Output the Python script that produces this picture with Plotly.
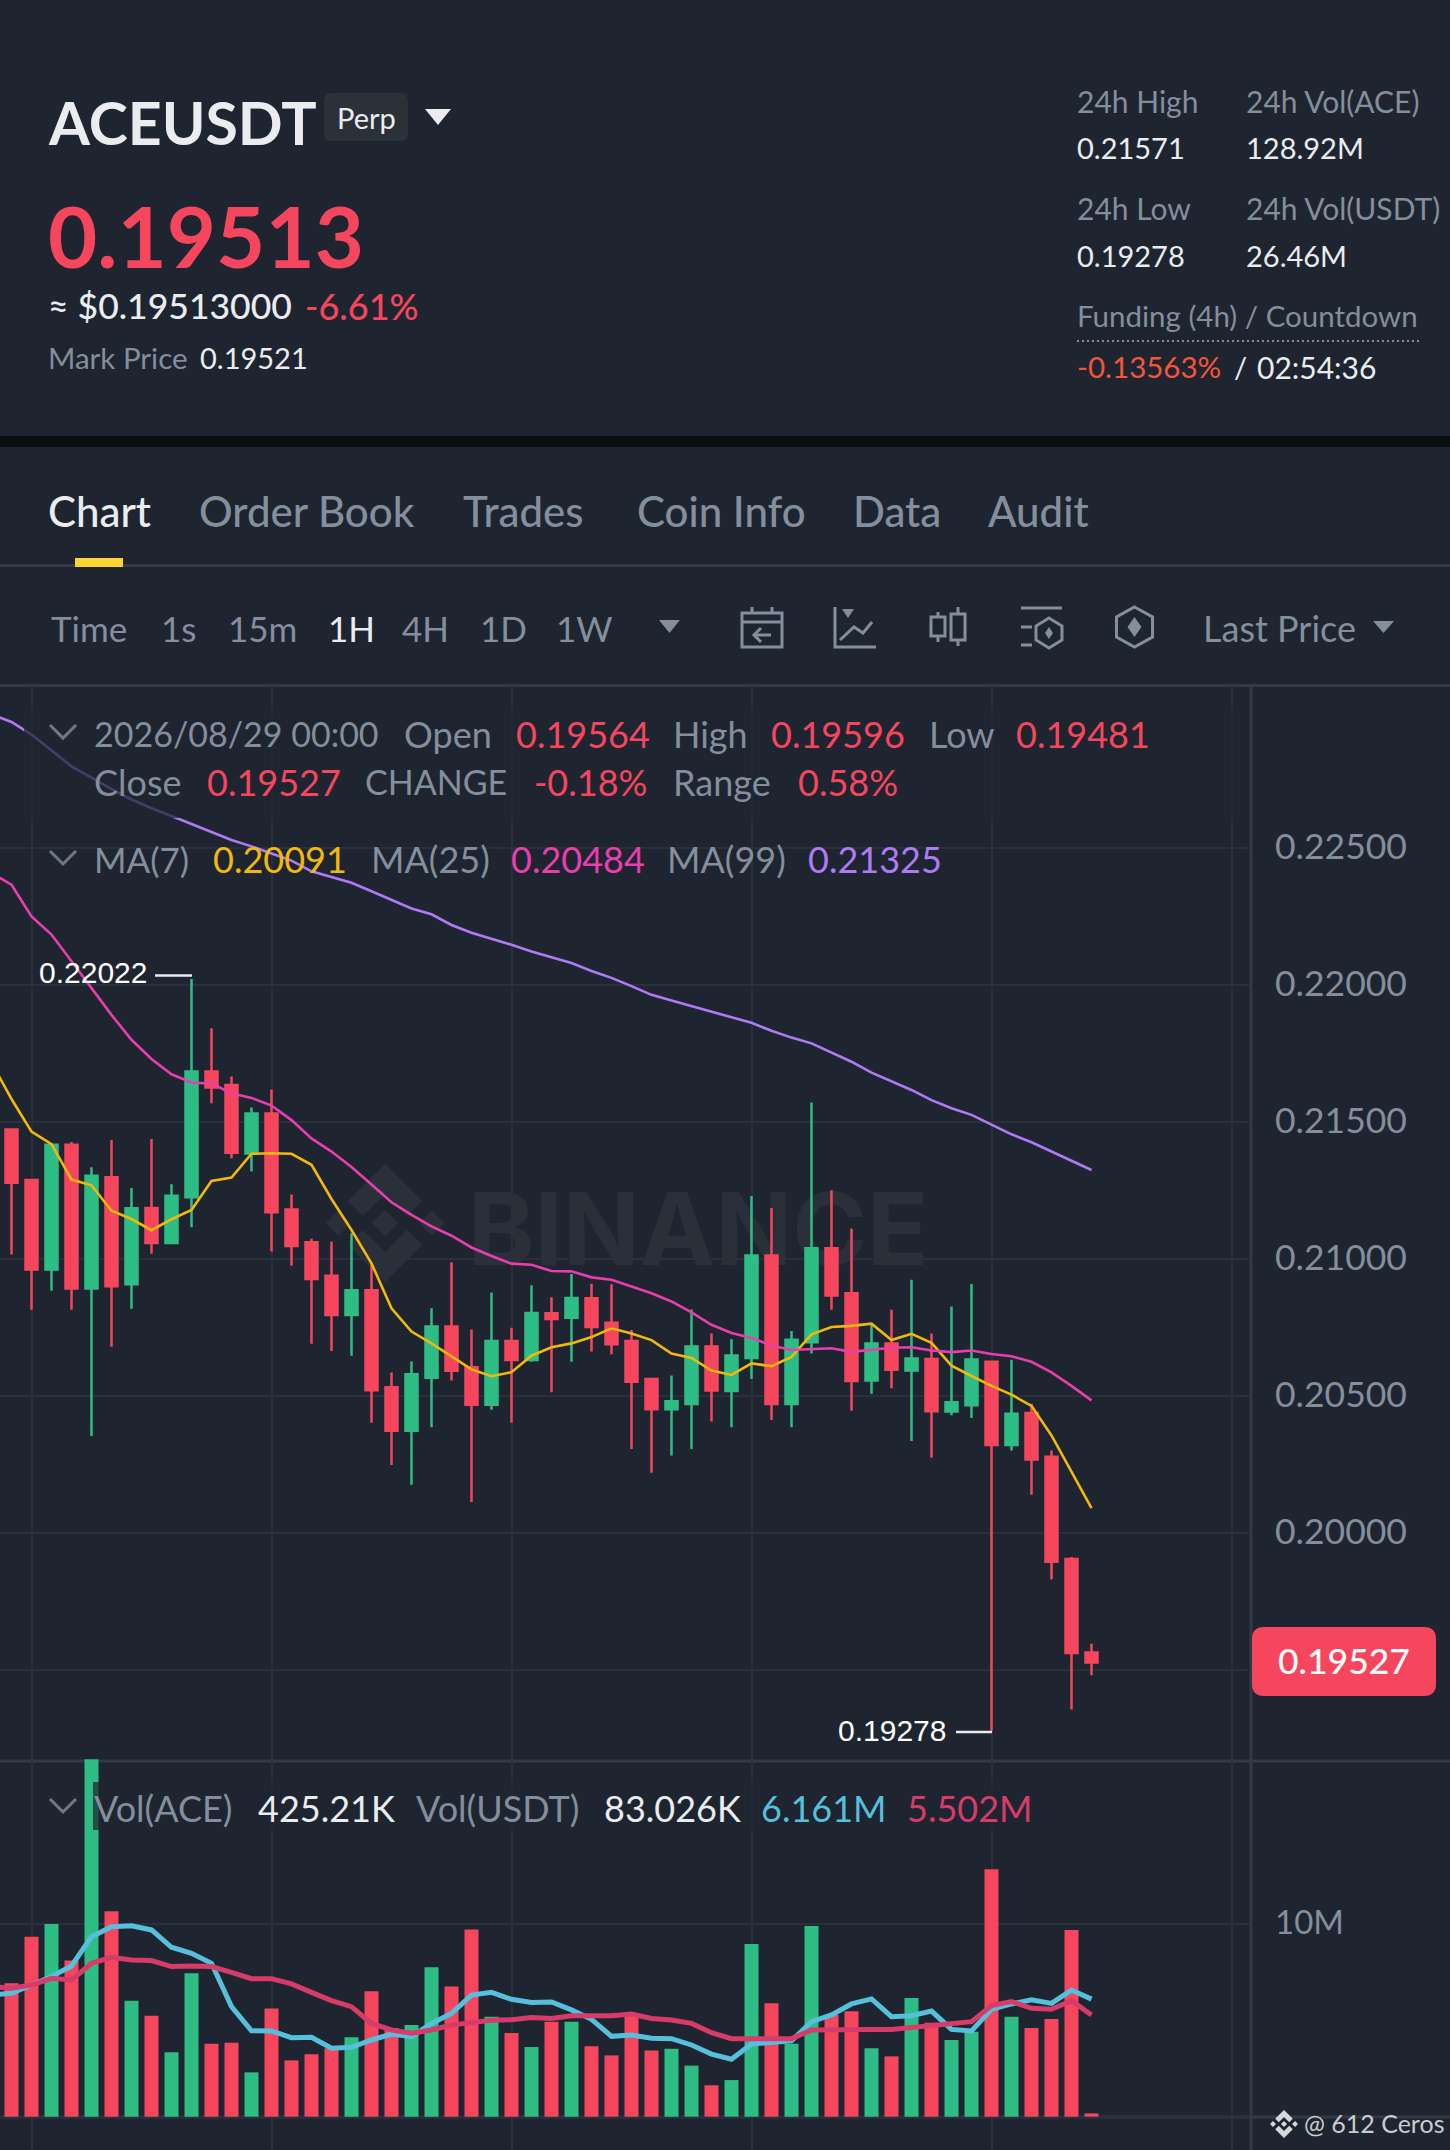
"""
ACEUSDT perp screen: 1H candles, moving averages and volume
"""

import plotly.graph_objects as go

# ─────────────────────────────────────────────────────────────────────────────
# Data
# ─────────────────────────────────────────────────────────────────────────────
opens = [
    .21473, .21288, .20962, .21417, .20892, .21298, .20908, .21186, .21058, .21225, .21684,
    .21635, .21385, .21531, .21181, .21061, .20939, .20796, .20886, .20532, .20373, .20567,
    .20754, .20605, .20468, .20701, .20631, .20802, .20786, .20857, .20767, .20701, .20562,
    .20452, .20471, .20681, .20518, .20639, .21013, .20471, .20696, .21039, .20875, .20557,
    .20692, .20593, .20635, .20443, .20466, .20625, .20321, .20438, .20278, .19905, .19564,
]
highs = [
    .21473, .21288, .21417, .21427, .21335, .21434, .21259, .21438, .21273, .22022, .21842,
    .21666, .21553, .21619, .21235, .21074, .21063, .21094, .20984, .20586, .20626, .20820,
    .20988, .20743, .20878, .20749, .20904, .20860, .20945, .20910, .20908, .20741, .20565,
    .20575, .20816, .20728, .20707, .21230, .21186, .20737, .21571, .21251, .21111, .20766,
    .20815, .20924, .20728, .20827, .20909, .20629, .20632, .20472, .20301, .19912, .19596,
]
lows = [
    .21016, .20815, .20884, .20815, .20354, .20680, .20818, .21019, .21056, .21116, .21568,
    .21367, .21319, .21027, .20975, .20691, .20664, .20647, .20402, .20248, .20176, .20386,
    .20557, .20113, .20450, .20402, .20625, .20514, .20625, .20662, .20652, .20307, .20220,
    .20283, .20307, .20407, .20386, .20562, .20412, .20386, .20655, .20815, .20446, .20508,
    .20528, .20336, .20275, .20430, .20420, .19278, .20301, .20140, .19830, .19356, .19481,
]
closes = [
    .21278, .20962, .21417, .20892, .21304, .20901, .21185, .21058, .21231, .21684, .21626,
    .21388, .21531, .21171, .21047, .20927, .20796, .20886, .20521, .20373, .20579, .20754,
    .20592, .20468, .20701, .20631, .20803, .20781, .20858, .20752, .20689, .20552, .20452,
    .20481, .20681, .20520, .20648, .21013, .20471, .20705, .21039, .20867, .20555, .20692,
    .20596, .20637, .20444, .20477, .20633, .20321, .20435, .20268, .19895, .19562, .19527,
]
volumes = [
    6.92, 9.34, 10.0, 8.10, 18.55, 10.66, 6.02, 5.24, 3.34, 7.44, 3.79,
    3.84, 2.30, 5.61, 2.92, 3.24, 3.55, 4.12, 6.51, 4.60, 4.76, 7.75,
    6.76, 9.71, 5.19, 4.34, 3.62, 4.93, 4.93, 3.65, 3.18, 5.30, 3.43,
    3.53, 2.65, 1.63, 1.90, 8.96, 5.88, 3.79, 9.90, 5.28, 5.47, 3.55,
    3.13, 6.16, 4.88, 3.98, 4.41, 12.84, 5.19, 4.60, 5.07, 9.69, 0.17,
]

# moving averages start one bar before the first whole candle (cut by the left edge)
ma7 = [
    .21716, .21584, .21465, .21419, .21290, .21269, .21176, .21146, .21105, .21145, .21179, .21285,
    .21297, .21384, .21386, .21384, .21344, .21219, .21106, .20984, .20820, .20735, .20692, .20643,
    .20597, .20572, .20587, .20647, .20678, .20692, .20715, .20747, .20728, .20704, .20655, .20639,
    .20593, .20577, .20619, .20609, .20643, .20725, .20752, .20756, .20764, .20704, .20727, .20694,
    .20611, .20573, .20537, .20505, .20464, .20356, .20226, .20091,
]
ma25 = [
    .22408, .22366, .22250, .22184, .22087, .21989, .21891, .21800, .21730, .21674, .21644, .21640,
    .21605, .21588, .21560, .21507, .21440, .21392, .21336, .21272, .21207, .21161, .21119, .21085,
    .21042, .21011, .20983, .20979, .20956, .20955, .20933, .20924, .20899, .20875, .20845, .20805,
    .20760, .20730, .20712, .20684, .20668, .20671, .20674, .20661, .20669, .20676, .20678, .20666,
    .20660, .20666, .20653, .20645, .20625, .20586, .20537, .20484,
]
ma99 = [
    .22988, .22960, .22914, .22855, .22798, .22757, .22715, .22677, .22645, .22617, .22587, .22557,
    .22529, .22506, .22480, .22454, .22415, .22394, .22373, .22342, .22310, .22279, .22258, .22219,
    .22191, .22170, .22147, .22122, .22100, .22080, .22051, .22026, .21996, .21964, .21943, .21923,
    .21903, .21882, .21862, .21833, .21808, .21787, .21753, .21720, .21680, .21647, .21617, .21580,
    .21550, .21526, .21489, .21455, .21426, .21392, .21359, .21325,
]
vol_ma_fast = [
    6.31, 6.40, 6.83, 7.27, 7.82, 9.34, 9.86, 9.91, 9.69, 8.79, 8.48, 7.96,
    5.71, 4.46, 4.45, 4.10, 4.12, 3.55, 3.60, 3.98, 4.29, 4.15, 4.84, 5.36,
    6.31, 6.45, 6.09, 5.93, 5.95, 5.54, 5.05, 4.17, 4.24, 4.07, 4.05, 3.72,
    3.25, 2.98, 3.77, 3.84, 3.94, 4.93, 5.28, 5.85, 6.11, 5.19, 5.24, 5.48,
    4.53, 4.45, 5.57, 5.85, 6.06, 5.88, 6.57, 6.10,
]
vol_ma_slow = [
    6.75, 6.66, 6.83, 7.18, 7.09, 7.96, 8.27, 8.13, 8.10, 7.79, 7.82, 7.79,
    7.49, 7.16, 7.16, 6.89, 6.45, 6.02, 5.71, 4.84, 4.50, 4.33, 4.50, 4.76,
    4.88, 5.00, 5.03, 5.14, 5.10, 5.24, 5.24, 5.24, 5.33, 5.10, 5.02, 4.84,
    4.36, 4.05, 4.05, 4.07, 4.05, 4.50, 4.53, 4.53, 4.53, 4.53, 4.62, 4.74,
    4.78, 4.93, 5.76, 5.97, 5.62, 5.57, 6.02, 5.28,
]

price_ticks = [.195, .20, .205, .21, .215, .22, .225]
price_tick_labels = ["", "0.20000", "0.20500", "0.21000", "0.21500", "0.22000", "0.22500"]
volume_ticks = [0, 10]
volume_tick_labels = ["", "10M"]
time_ticks = [1, 13, 25, 37, 49, 61]
bars = list(range(len(closes)))
ma_bars = list(range(-1, len(closes)))

W, H = 1450, 2150
BG = "#1E2530"
LINE = "#333A46"
GRID = "#2A303A"
WHITE = "#EAECEF"
GRAY = "#848E9C"
RED = "#F6465D"
GREEN = "#2EBD85"
YELLOW = "#F0B90B"
PINK = "#E83EAE"
PURPLE = "#AE7BF4"
CYAN = "#56BFDB"
CRIMSON = "#D63B6A"
FONT = "Lato"


# ─────────────────────────────────────────────────────────────────────────────
# Helpers, everything below works in screen pixels
# ─────────────────────────────────────────────────────────────────────────────
def px(x):
    return x / W


def py(y):
    return 1 - y / H


def path(points, close=False):
    cmds = [f"{'M' if i == 0 else 'L'}{px(x):.5f},{py(y):.5f}" for i, (x, y) in enumerate(points)]
    return " ".join(cmds) + (" Z" if close else "")


def round_rect(x0, y0, x1, y1, r):
    def p(x, y):
        return f"{px(x):.5f},{py(y):.5f}"
    return (f"M{p(x0 + r, y0)} L{p(x1 - r, y0)} Q{p(x1, y0)} {p(x1, y0 + r)} L{p(x1, y1 - r)} "
            f"Q{p(x1, y1)} {p(x1 - r, y1)} L{p(x0 + r, y1)} Q{p(x0, y1)} {p(x0, y1 - r)} "
            f"L{p(x0, y0 + r)} Q{p(x0, y0)} {p(x0 + r, y0)} Z")


shapes = []
annotations = []


def fill_shape(d, color, layer="above"):
    shapes.append(dict(type="path", xref="paper", yref="paper", path=d, fillcolor=color,
                       line=dict(width=0), layer=layer))


def stroke(points, color=GRAY, width=3, close=False, layer="above", dash=None):
    shapes.append(dict(type="path", xref="paper", yref="paper", path=path(points, close),
                       line=dict(color=color, width=width, dash=dash), layer=layer))


def box(x0, y0, x1, y1, color, layer="above"):
    shapes.append(dict(type="rect", xref="paper", yref="paper", x0=px(x0), x1=px(x1),
                       y0=py(y0), y1=py(y1), fillcolor=color, line=dict(width=0), layer=layer))


def label(x, y, text, size=29, color=WHITE, weight=400, family=FONT, anchor="left"):
    # small nudge: Lato sits a little right of and below the app's font
    annotations.append(dict(xref="paper", yref="paper", x=px(x - 1.5), y=py(y - 1.5), text=text,
                            showarrow=False, xanchor=anchor, yanchor="middle", borderpad=0,
                            font=dict(family=family, size=size, color=color, weight=weight)))


def axis_label(axis, value, text, size):
    annotations.append(dict(xref="paper", yref=axis, x=px(1274), y=value, yshift=3, text=text,
                            showarrow=False, xanchor="left", yanchor="middle", borderpad=0,
                            font=dict(family=FONT, size=size, color=GRAY)))


def triangle(x0, x1, y0, y1, color):
    fill_shape(path([(x0, y0), (x1, y0), ((x0 + x1) / 2, y1)], True), color)


def chevron(cy):
    stroke([(50, cy - 7), (63, cy + 6), (76, cy - 7)], "#6F7885", 3)


def hexagon(cx, cy, hw, hh, shoulder, width=3):
    stroke([(cx, cy - hh), (cx + hw, cy - shoulder), (cx + hw, cy + shoulder), (cx, cy + hh),
            (cx - hw, cy + shoulder), (cx - hw, cy - shoulder)], GRAY, width, True)


def diamond(cx, cy, hw, hh, color=GRAY, layer="above"):
    fill_shape(path([(cx, cy - hh), (cx + hw, cy), (cx, cy + hh), (cx - hw, cy)], True), color, layer)


def binance_logo(cx, cy, size, color, layer):
    a, t = size * 0.627, size * 0.254
    for s in (-1, 1):
        fill_shape(path([(cx, cy + s * size), (cx + a, cy + s * (size - a)),
                         (cx + a - t, cy + s * (size - a - t)), (cx, cy + s * (size - 2 * t)),
                         (cx - a + t, cy + s * (size - a - t)), (cx - a, cy + s * (size - a))], True),
                   color, layer)
        diamond(cx + s * size * 0.79, cy, size * 0.21, size * 0.21, color, layer)
    diamond(cx, cy, size * 0.22, size * 0.22, color, layer)


# ─────────────────────────────────────────────────────────────────────────────
# Page chrome: header, tabs, toolbar
# ─────────────────────────────────────────────────────────────────────────────
box(0, 436, W, 447, "#0B0E11", "below")
stroke([(0, 565.5), (W, 565.5)], LINE, 3, layer="below")
stroke([(0, 685.5), (W, 685.5)], LINE, 3, layer="below")
stroke([(0, 1761), (W, 1761)], LINE, 3, layer="below")
stroke([(1251, 685), (1251, H)], LINE, 3, layer="below")
stroke([(0, 2117), (W, 2117)], LINE, 3, layer="below")

label(48, 124, "ACEUSDT", 59, WHITE, 700)
fill_shape(round_rect(324, 93, 408, 141, 8), "#2B3139")
label(337, 119, "Perp", 29)
triangle(425, 451, 109, 125, WHITE)
label(48, 236, "0.19513", 85, RED, 700)
label(48, 307, "≈ $0.19513000", 35.5, WHITE, 500)
label(305, 307, "-6.61%", 36, RED, 500)
label(48, 359, "Mark Price", 29.5, GRAY)
label(200, 359, "0.19521", 29)

label(1077, 102, "24h High", 30, GRAY)
label(1246, 102, "24h Vol(ACE)", 30, GRAY)
label(1077, 149, "0.21571", 29)
label(1246, 149, "128.92M", 29)
label(1077, 209, "24h Low", 30, GRAY)
label(1246, 209, "24h Vol(USDT)", 30, GRAY)
label(1077, 257, "0.19278", 29)
label(1246, 257, "26.46M", 29)
label(1077, 317, "Funding (4h) / Countdown", 29.5, GRAY)
stroke([(1077, 341), (1422, 341)], GRAY, 2, dash="2px,3px")
label(1077, 368, "-0.13563%", 29.5, "#F6553A")
label(1234, 368, "/", 29)
label(1257, 368, "02:54:36", 30)

for tab_x, tab, tab_color in zip([48, 199, 463, 637, 853, 988],
                                 ["Chart", "Order Book", "Trades", "Coin Info", "Data", "Audit"],
                                 [WHITE, GRAY, GRAY, GRAY, GRAY, GRAY]):
    label(tab_x, 512, tab, 42, tab_color, 500)
box(75, 558, 123, 567, "#FCD535")

for t_x, t, t_color in zip([51, 161, 228, 328, 402, 480, 556],
                           ["Time", "1s", "15m", "1H", "4H", "1D", "1W"],
                           [GRAY, GRAY, GRAY, WHITE, GRAY, GRAY, GRAY]):
    label(t_x, 630, t, 35, t_color)
triangle(659, 680, 620, 633, GRAY)
label(1203, 630, "Last Price", 36, GRAY)
triangle(1373, 1394, 621, 633, GRAY)

# calendar icon
stroke([(742, 613), (782, 613), (782, 647), (742, 647)], GRAY, 3, True)
stroke([(742, 622), (782, 622)])
stroke([(752, 607), (752, 613)])
stroke([(772, 607), (772, 613)])
stroke([(771, 635), (754, 635)])
stroke([(761, 628), (754, 635), (761, 642)])
# indicator icon
stroke([(835, 607), (835, 647), (876, 647)])
triangle(842, 854, 609, 618, GRAY)
stroke([(840, 640), (854, 627), (863, 633), (872, 622)])
# candles icon
stroke([(938, 612), (938, 617)])
stroke([(938, 636), (938, 642)])
stroke([(931, 617), (945, 617), (945, 636), (931, 636)], GRAY, 3, True)
stroke([(958, 607), (958, 614)])
stroke([(958, 640), (958, 646)])
stroke([(951, 614), (965, 614), (965, 640), (951, 640)], GRAY, 3, True)
# settings icon
stroke([(1021, 608), (1062, 608)])
stroke([(1021, 627), (1032, 627)])
stroke([(1021, 645), (1032, 645)])
hexagon(1049, 633, 13, 15, 7)
diamond(1049, 633, 4, 6)
# hexagon icon
hexagon(1134.5, 627, 18, 20, 10)
diamond(1134.5, 627, 7, 10)

# ─────────────────────────────────────────────────────────────────────────────
# Watermark stays under the candles
# ─────────────────────────────────────────────────────────────────────────────
binance_logo(385, 1223, 59, "#2B2F39", "between")
shapes.append(dict(type="rect", xref="paper", yref="paper", x0=px(460), x1=px(936),
                   y0=py(1180), y1=py(1270), line=dict(width=0), layer="between",
                   label=dict(text="BINANCE", textposition="middle center",
                              font=dict(family="Inter", size=101, color="#2B2F39", weight=700))))

# ─────────────────────────────────────────────────────────────────────────────
# Chart legends (semi-transparent strips over the lines, as in the app)
# ─────────────────────────────────────────────────────────────────────────────
box(24, 710, 1244, 818, "rgba(30,37,48,0.72)")
box(93, 1782, 1035, 1830, "rgba(30,37,48,0.72)")
chevron(732)
chevron(858)
chevron(1806)

label(94, 735, "2026/08/29 00:00", 34, GRAY)
label(365, 783, "CHANGE", 34, GRAY)
label(94, 861, "MA(7)", 35, GRAY)
for lx, ly, txt, col in [
    (404, 735, "Open", GRAY), (516, 735, "0.19564", RED),
    (673, 735, "High", GRAY), (771, 735, "0.19596", RED), (929, 735, "Low", GRAY),
    (1016, 735, "0.19481", RED),
    (94, 783, "Close", GRAY), (207, 783, "0.19527", RED),
    (534, 783, "-0.18%", RED), (673, 783, "Range", GRAY), (798, 783, "0.58%", RED),
    (213, 861, "0.20091", YELLOW), (371, 861, "MA(25)", GRAY),
    (511, 861, "0.20484", PINK), (667, 861, "MA(99)", GRAY), (808, 861, "0.21325", PURPLE),
    (94, 1809, "Vol(ACE)", GRAY), (258, 1809, "425.21K", WHITE), (416, 1809, "Vol(USDT)", GRAY),
    (604, 1809, "83.026K", WHITE), (762, 1809, "6.161M", CYAN), (908, 1809, "5.502M", CRIMSON),
]:
    label(lx, ly, txt, 36, col)

# high / low markers
label(39, 974, "0.22022", 30, "#FFFFFF", family="Liberation Sans")
stroke([(155, 975.5), (192, 975.5)], "#EAECEF", 2.5)
label(838, 1732, "0.19278", 30, "#FFFFFF", family="Liberation Sans")
stroke([(956, 1732), (992, 1732)], "#EAECEF", 2.5)

# axis labels sit a few px above their gridlines in the app
for value, text in zip(price_ticks, price_tick_labels):
    if text:
        axis_label("y", value, text, 35.5)
for value, text in zip(volume_ticks, volume_tick_labels):
    if text:
        axis_label("y2", value, text, 33)

# last price badge and footer
fill_shape(round_rect(1252, 1627, 1436, 1696, 12), RED)
label(1345.5, 1662, "0.19527", 35.5, "#FFFFFF", 500, anchor="center")
binance_logo(1284, 2124, 14, "#D5D8DC", "above")
label(1304, 2124, "@ 612 Ceros", 25, "#C9CCD1")

# ─────────────────────────────────────────────────────────────────────────────
# Traces
# ─────────────────────────────────────────────────────────────────────────────
fig = go.Figure()

fig.add_trace(go.Candlestick(
    x=bars, open=opens, high=highs, low=lows, close=closes,
    increasing=dict(line=dict(color=GREEN, width=2.5), fillcolor=GREEN),
    decreasing=dict(line=dict(color=RED, width=2.5), fillcolor=RED),
    whiskerwidth=0, xaxis="x", yaxis="y",
))
for series, color in [(ma7, YELLOW), (ma25, PINK), (ma99, PURPLE)]:
    fig.add_trace(go.Scatter(x=ma_bars, y=series, mode="lines", line=dict(color=color, width=2.6),
                             xaxis="x", yaxis="y"))

bar_colors = [GREEN if c >= o else RED for o, c in zip(opens, closes)]
fig.add_trace(go.Bar(x=bars, y=volumes, marker=dict(color=bar_colors, line=dict(width=0)),
                     xaxis="x2", yaxis="y2"))
for series, color in [(vol_ma_fast, CYAN), (vol_ma_slow, CRIMSON)]:
    fig.add_trace(go.Scatter(x=ma_bars, y=series, mode="lines", line=dict(color=color, width=5),
                             xaxis="x2", yaxis="y2"))

x_range = [-0.575, 61.925]
x_common = dict(domain=[0, 1250 / W], range=x_range, tickmode="array", tickvals=time_ticks,
                showticklabels=False, ticks="", showgrid=True, gridcolor=GRID, gridwidth=2,
                zeroline=False, showline=False, rangeslider=dict(visible=False))
y_common = dict(side="right", tickmode="array", ticks="", showticklabels=False, showgrid=True,
                gridcolor=GRID, gridwidth=2, zeroline=False, showline=False)

fig.update_layout(
    width=W, height=H,
    margin=dict(l=0, r=0, t=0, b=0),
    paper_bgcolor=BG, plot_bgcolor="rgba(0,0,0,0)",
    showlegend=False, hovermode=False,
    boxgap=0.4, boxgroupgap=0, bargap=0.3,
    xaxis=dict(anchor="y", **x_common),
    xaxis2=dict(anchor="y2", **x_common),
    yaxis=dict(anchor="x", domain=[py(1761), py(685)], range=[0.22 - 776 / 27400, 0.22 + 300 / 27400],
               tickvals=price_ticks, **y_common),
    yaxis2=dict(anchor="x2", domain=[0, py(1758)], range=[-1.728, 18.61],
                tickvals=volume_ticks, **y_common),
    shapes=shapes, annotations=annotations,
)

# the browser's default body margin would push the page off by 8px
fig.write_html("out.html", config={"displayModeBar": False},
               post_script="document.body.style.margin = '0';")
